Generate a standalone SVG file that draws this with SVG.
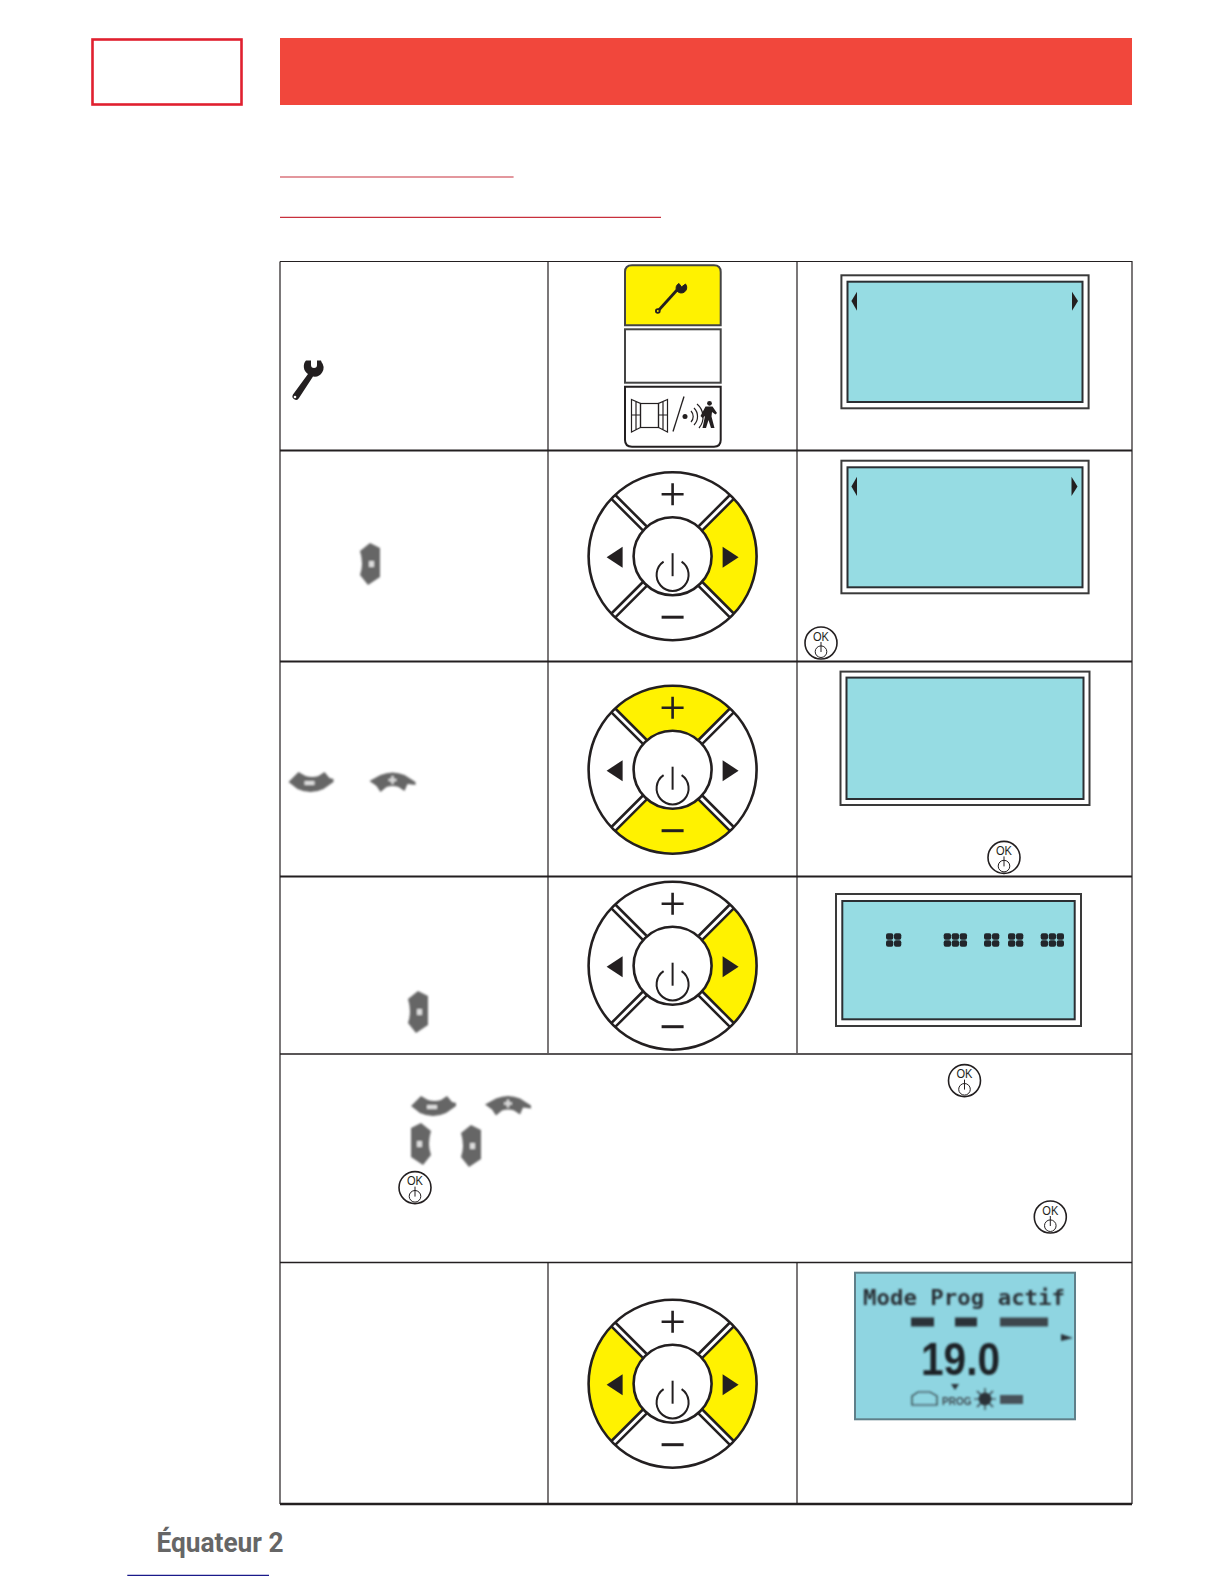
<svg xmlns="http://www.w3.org/2000/svg" xmlns:xlink="http://www.w3.org/1999/xlink" width="1224" height="1584" viewBox="0 0 1224 1584">
<style>
.tl{stroke:#231f20;fill:none}
.scr-o{fill:#fff;stroke:#3a3a3a;stroke-width:2}
.scr-i{fill:#96dce3;stroke:#2b2f33;stroke-width:2}
.ic{fill:#231f20}
.gl{fill:#666}
.glh{fill:#ddd}
.ok{font-family:"Liberation Sans",Arial,sans-serif;font-size:13px;fill:#231f20;text-anchor:middle}
.y{fill:#fff200}
.m{fill:#22262b}
</style>
<defs>
<filter id="soft" x="-30%" y="-30%" width="160%" height="160%"><feGaussianBlur stdDeviation="1"/></filter>
<filter id="soft2" x="-10%" y="-10%" width="120%" height="120%"><feGaussianBlur stdDeviation="0.8"/></filter>
<path id="wedge" class="y" d="M27.6,-27.6L59.4,-59.4A84,84 0 0 1 59.4,59.4L27.6,27.6A39,39 0 0 0 27.6,-27.6Z"/>
<g id="dial-top">
<g stroke="#231f20" stroke-width="8"><path d="M28,-28L59,-59M-28,-28L-59,-59M28,28L59,59M-28,28L-59,59"/></g>
<g stroke="#fff" stroke-width="3"><path d="M27,-27L59,-59M-27,-27L-59,-59M27,27L59,59M-27,27L-59,59"/></g>
<circle r="84" fill="none" stroke="#231f20" stroke-width="2.6"/>
<circle r="39" fill="#fff" stroke="#231f20" stroke-width="2.6"/>
<path d="M-9,5.5A16,16 0 1 0 9,5.5" fill="none" stroke="#231f20" stroke-width="2"/>
<path d="M0,-3V20" stroke="#231f20" stroke-width="2"/>
<path d="M-11,-62H11M0,-73V-51" stroke="#231f20" stroke-width="2.6" fill="none"/>
<path d="M-11,61H11" stroke="#231f20" stroke-width="3"/>
<path d="M50,-9.5L66,1L50,11.5Z" fill="#231f20"/>
<path d="M-50,-9.5L-66,1L-50,11.5Z" fill="#231f20"/>
</g>
<g id="okb">
<circle r="16" fill="#fff" stroke="#231f20" stroke-width="1.6"/>
<text class="ok" x="0" y="-2.3" textLength="16" lengthAdjust="spacingAndGlyphs">OK</text>
<circle cy="8.7" r="5.8" fill="none" stroke="#231f20" stroke-width="1"/>
<path d="M0,-1V9" stroke="#231f20" stroke-width="1"/>
</g>
<g id="bt-right" filter="url(#soft)"><path class="gl" d="M0,-21L10,-16V13L-2,21L-10,11Q-6,0 -10,-13Z"/><rect class="glh" x="-1" y="-3" width="5" height="6"/></g>
<g id="bt-left" filter="url(#soft)"><path class="gl" d="M0,-21L-10,-16V13L2,21L10,11Q6,0 10,-13Z"/><rect class="glh" x="-4" y="-3" width="5" height="6"/></g>
<g id="bt-minus" filter="url(#soft)"><path class="gl" d="M-22,0L-12,-10L-5,-6Q2,-4 8,-6L14,-10L19,-4L23,-3V0L13,7Q0,13 -13,7Z"/><rect class="glh" x="-6" y="-1" width="10" height="4"/></g>
<g id="bt-plus" filter="url(#soft)"><path class="gl" d="M-23,-1L-12,-7Q0,-12 12,-7L23,0V3L15,2L12,9L6,5Q0,3 -6,5L-12,10L-16,4Z"/><path d="M-4,-2H4M0,-6V2" stroke="#ddd" stroke-width="2.4"/></g>
<g id="lcdm"><rect x="0" y="0" width="7.3" height="6.4" rx="2" class="m"/><rect x="0" y="7" width="7.3" height="6.4" rx="2" class="m"/><rect x="8" y="0" width="7.3" height="6.4" rx="2" class="m"/><rect x="8" y="7" width="7.3" height="6.4" rx="2" class="m"/></g>
<g id="lcdm3"><use href="#lcdm"/><rect x="16" y="0" width="7.3" height="6.4" rx="2" class="m"/><rect x="16" y="7" width="7.3" height="6.4" rx="2" class="m"/></g>
</defs>
<rect width="1224" height="1584" fill="#fff"/>

<g id="header">
<rect x="92.5" y="39.5" width="149" height="65" fill="#fff" stroke="#e0202f" stroke-width="2.6"/>
<rect x="280" y="38" width="852" height="67" fill="#f1473c"/>
<path d="M280,177H513.6" stroke="#c8303c" stroke-width="1.2"/>
<path d="M280,217.3H661" stroke="#c8303c" stroke-width="1.2"/>
</g>

<g id="table-lines">
<path class="tl" stroke-width="1.2" d="M280,261.5H1132V1504M280,261.5V1504M548,261.5V1053M797,261.5V1053M548,1262V1504M797,1262V1504"/>
<path class="tl" stroke-width="2" d="M280,450.5H1132M280,661.5H1132M280,876.6H1132"/>
<path class="tl" stroke-width="1.4" d="M280,1054H1132M280,1262.5H1132"/>
<path class="tl" stroke-width="2.4" d="M280,1504H1132"/>
</g>

<g id="wrench-left">
<path class="ic" d="M306,360.5A9,9 0 0 0 308,374L293,394.5A3.4,3.4 0 1 0 299,398L313,376.5A9,9 0 0 0 321.5,362L321,360.5H317L317,365A3,3 0 0 1 311,365L311,360.5Z"/>
<circle cx="295" cy="397" r="1.3" fill="#fff"/>
</g>
<g id="button-wrench">
<path d="M625,325.3V272Q625,265.3 632,265.3H714Q720.7,265.3 720.7,272V325.3Z" class="y" stroke="#444" stroke-width="2"/>
<path d="M658,311L677,290" stroke="#231f20" stroke-width="2.8" fill="none"/>
<circle cx="657.8" cy="311" r="2.8" class="ic"/><circle cx="657.8" cy="311" r="0.9" class="y"/>
<path d="M679,283.5A5,5 0 0 0 677,291A5.5,5.5 0 0 0 685.5,284L681.5,287Z" class="ic" stroke="#231f20" stroke-width="1"/>
</g>
<g id="button-blank"><rect x="625" y="329.3" width="95.7" height="53.4" fill="#fff" stroke="#444" stroke-width="2"/></g>
<g id="button-window">
<path d="M625,386.7V440Q625,446.7 632,446.7H714Q720.7,446.7 720.7,440V386.7Z" fill="#fff" stroke="#231f20" stroke-width="2"/>
<g stroke="#231f20" stroke-width="1.2" fill="none">
<rect x="640.5" y="403.5" width="18" height="24"/>
<path d="M631.5,399.5L640.5,403.5V427.5L631.5,432ZM636,401.5V430M631.5,415H640.5"/>
<path d="M667.5,399.5L658.5,403.5V427.5L667.5,432ZM663,401.5V430M658.5,415H667.5"/>
<path d="M684,396.5L673,431.5" stroke-width="1.3"/>
<path d="M691,411A8,8 0 0 1 691,422M694,408A12,12 0 0 1 694,425M697,404A17,17 0 0 1 699,428"/>
</g>
<circle cx="685" cy="416.5" r="2.5" fill="#231f20"/>
<circle cx="709.5" cy="403.3" r="2.4" fill="#231f20"/>
<path class="ic" d="M705.5,406.5H712.5L717,413L715.5,414.5L712,412L711.5,416.5L714.5,428H711L708.5,420L706,428H702.5L705,416L702.5,418L700.5,416Z"/>
</g>

<g id="screen-1">
<rect class="scr-o" x="841.4" y="275.3" width="247.2" height="133"/>
<rect class="scr-i" x="847.5" y="281.7" width="235" height="120.3"/>
<path class="ic" d="M857,291.7L851.4,301L857,310.7Z"/>
<path class="ic" d="M1072,291.7L1078,301L1072,310.7Z"/>
</g>
<g id="dial-2" transform="translate(672.6,556.2)">
<circle r="84" fill="#fff"/><use href="#wedge"/><use href="#dial-top"/>
</g>
<g id="screen-2">
<rect class="scr-o" x="841.4" y="460.7" width="247.2" height="132.6"/>
<rect class="scr-i" x="847.5" y="467.3" width="235" height="120"/>
<path class="ic" d="M857,476.7L851.4,486.5L857,496Z"/>
<path class="ic" d="M1071.5,476.7L1077.5,486.5L1071.5,496Z"/>
</g>
<use id="ok-1" href="#okb" x="821" y="643"/>
<use id="btn-right-1" href="#bt-right" x="370" y="564"/>

<use id="btn-minus-1" href="#bt-minus" x="310.5" y="782"/>
<use id="btn-plus-1" href="#bt-plus" x="392.5" y="782"/>
<g id="dial-3" transform="translate(672.6,769.7)">
<circle r="84" fill="#fff"/><use href="#wedge" transform="rotate(-90)"/><use href="#wedge" transform="rotate(90)"/><use href="#dial-top"/>
</g>
<g id="screen-3">
<rect class="scr-o" x="840.5" y="671.6" width="249" height="133.4"/>
<rect class="scr-i" x="846.5" y="677.6" width="237" height="121.4"/>
</g>
<use id="ok-2" href="#okb" x="1004" y="857.4"/>

<use id="btn-right-2" href="#bt-right" x="418" y="1012"/>
<g id="dial-4" transform="translate(672.6,965.7)">
<circle r="84" fill="#fff"/><use href="#wedge"/><use href="#dial-top"/>
</g>
<g id="screen-4">
<rect class="scr-o" x="836" y="894" width="245" height="132"/>
<rect class="scr-i" x="842.3" y="901" width="232.4" height="118.3"/>
<use href="#lcdm" x="886" y="933.3"/>
<use href="#lcdm3" x="943.7" y="933.3"/>
<use href="#lcdm" x="984" y="933.3"/>
<use href="#lcdm" x="1008" y="933.3"/>
<use href="#lcdm3" x="1040.7" y="933.3"/>
</g>

<use id="ok-3" href="#okb" x="964.5" y="1080.6"/>
<use id="btn-minus-2" href="#bt-minus" x="433" y="1106"/>
<use id="btn-plus-2" href="#bt-plus" x="508" y="1105.5"/>
<use id="btn-left-1" href="#bt-left" x="421" y="1144"/>
<use id="btn-right-3" href="#bt-right" x="471" y="1146"/>
<use id="ok-4" href="#okb" x="415" y="1187.6"/>
<use id="ok-5" href="#okb" x="1050.3" y="1217"/>

<g id="dial-5" transform="translate(672.6,1383.7)">
<circle r="84" fill="#fff"/><use href="#wedge"/><use href="#wedge" transform="rotate(180)"/><use href="#dial-top"/>
</g>
<g id="screen-photo">
<rect x="855" y="1272.7" width="220" height="146.6" fill="#8fd5e1" stroke="#5f7f89" stroke-width="2"/>
<g filter="url(#soft2)" fill="#2a3238">
<text x="863" y="1305" font-family="'DejaVu Sans Mono','Liberation Mono',monospace" font-weight="700" font-size="22" textLength="202" lengthAdjust="spacingAndGlyphs">Mode Prog actif</text>
<text x="921" y="1375" font-family="'Liberation Sans',Arial,sans-serif" font-weight="700" font-size="47" textLength="79" lengthAdjust="spacingAndGlyphs" fill="#1c2226">19.0</text>
<rect x="911" y="1317.5" width="23" height="9"/><rect x="955" y="1317.5" width="22" height="9"/><rect x="1000" y="1317.5" width="48" height="9" fill="#3d474e"/>
<path d="M1061,1334L1073,1338L1061,1341Z"/>
<path d="M951,1384H959L955,1390Z"/>
<path d="M912,1405V1396L918,1392H930L937,1396V1405Z" fill="none" stroke="#2a3238" stroke-width="1.2"/>
<text x="942" y="1405" font-family="'Liberation Sans',Arial,sans-serif" font-weight="700" font-size="10" fill="#3d474e">PROG</text>
<circle cx="985" cy="1399" r="6.5"/>
<path d="M985,1388V1410M974,1399H996M977,1391L993,1407M993,1391L977,1407" stroke="#2a3238" stroke-width="1.2"/>
<rect x="1000" y="1395" width="23" height="9" fill="#46525a"/>
</g>
</g>

<g id="footer">
<text x="156.5" y="1552" font-family="Roboto,'Liberation Sans',sans-serif" font-weight="700" font-size="27" fill="#666" textLength="127" lengthAdjust="spacingAndGlyphs">Équateur 2</text>
<path d="M127.3,1575.4H269" stroke="#1a1a8a" stroke-width="1.2"/>
</g>
</svg>
